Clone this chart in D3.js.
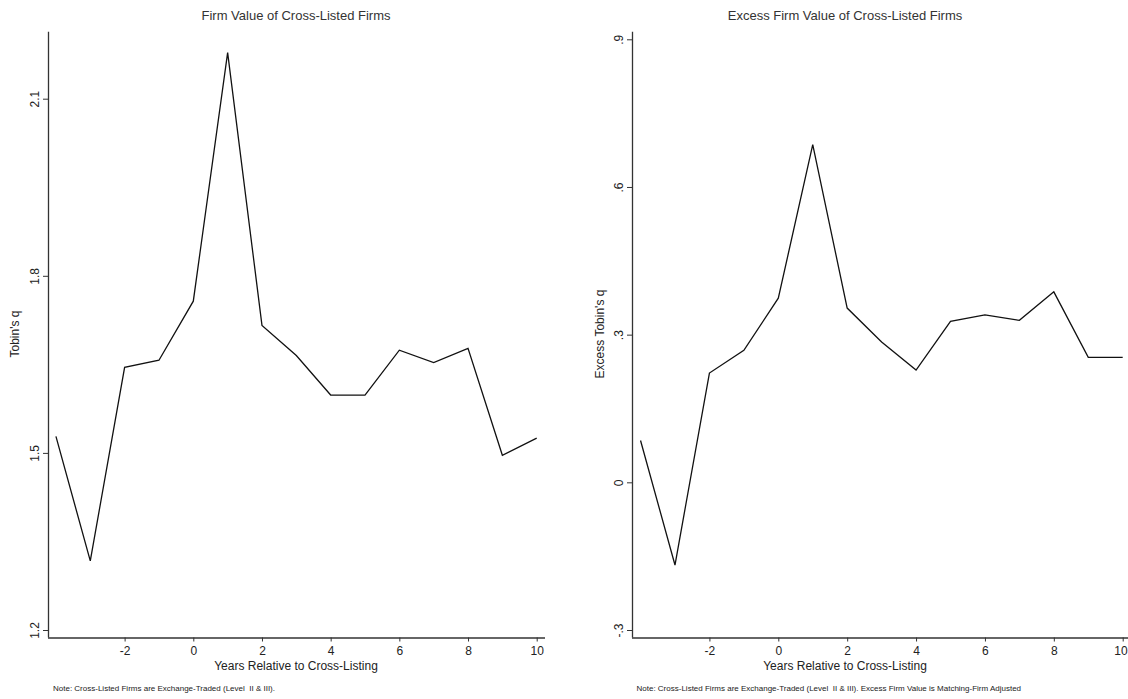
<!DOCTYPE html>
<html><head><meta charset="utf-8">
<script src="https://cdn.jsdelivr.net/npm/d3@7"></script>
<style>body{margin:0;background:#fff}svg{display:block}text{font-family:"Liberation Sans",Arial,sans-serif;white-space:pre}</style>
</head><body><svg id="c" width="1128" height="699"></svg>
<script>
const years = [-4,-3,-2,-1,0,1,2,3,4,5,6,7,8,9,10];
const tobinQ = [1.528,1.317,1.645,1.657,1.757,2.178,1.716,1.665,1.598,1.598,1.674,1.653,1.677,1.496,1.525];
const excessQ = [0.085,-0.168,0.222,0.268,0.374,0.686,0.354,0.285,0.228,0.327,0.340,0.329,0.387,0.254,0.254];
const xTicks = [-2,0,2,4,6,8,10];
const xTickLabels = ["-2","0","2","4","6","8","10"];
const leftYTicks = [1.2,1.5,1.8,2.1];
const leftYLabels = ["1.2","1.5","1.8","2.1"];
const rightYTicks = [-0.3,0,0.3,0.6,0.9];
const rightYLabels = ["-.3","0",".3",".6",".9"];

const svg = d3.select("#c");
const axisCol = "#333";
const W = 1128;

function panel(cfg){
  const g = svg.append("g");
  const x = d3.scaleLinear().domain([0,10]).range(cfg.xr);
  const y = d3.scaleLinear().domain(cfg.yd).range(cfg.yr);
  const ax = g.append("g").attr("transform",`translate(0,${cfg.axisY})`)
    .call(d3.axisBottom(x).tickValues(xTicks).tickFormat((d,i)=>xTickLabels[i]).tickSize(4).tickSizeOuter(0));
  ax.select(".domain").attr("d",`M${cfg.axisX},0.5H${cfg.xEnd}`).attr("stroke",axisCol).attr("stroke-width",1.3);
  ax.selectAll(".tick line").attr("stroke",axisCol);
  ax.selectAll(".tick text").attr("font-size",12).attr("fill","#222").attr("dy","0.9em")
    .each(function(d){
      const b = this.getBBox();
      const right = x(d) + b.x + b.width;
      if (right > W - 0.5) d3.select(this).attr("x", W - 0.5 - right);
    });
  const ay = g.append("g").attr("transform",`translate(${cfg.axisX},0)`)
    .call(d3.axisLeft(y).tickValues(cfg.yTicks).tickFormat((d,i)=>cfg.yLabels[i]).tickSize(5).tickSizeOuter(0));
  ay.select(".domain").attr("d",`M0.5,${cfg.yTop}V${cfg.axisY}`).attr("stroke",axisCol).attr("stroke-width",1.3);
  ay.selectAll(".tick line").attr("stroke",axisCol);
  ay.selectAll(".tick text").attr("font-size",12).attr("fill","#222")
    .attr("transform","rotate(-90)").attr("x",0).attr("y",-9).attr("dy",0).attr("text-anchor","middle");
  const line = d3.line().x((d,i)=>x(years[i])).y(d=>y(d));
  g.append("path").datum(cfg.data).attr("d",line).attr("fill","none").attr("stroke","#111").attr("stroke-width",1.3);
  g.append("text").attr("x",cfg.titleX).attr("y",20).attr("text-anchor","middle").attr("font-size",13).attr("fill","#333").text(cfg.title);
  g.append("text").attr("x",cfg.titleX).attr("y",670).attr("text-anchor","middle").attr("font-size",12).attr("fill","#222").text("Years Relative to Cross-Listing");
  g.append("text").attr("transform",`translate(${cfg.ylabX},${cfg.ylabY}) rotate(-90)`).attr("text-anchor","middle").attr("font-size",12).attr("fill","#222").text(cfg.ylab);
  g.append("text").attr("x",cfg.noteX).attr("y",691).attr("font-size",8).attr("fill","#222").text(cfg.note);
}

panel({xr:[193.3,536.7], yd:[1.2,2.1], yr:[630,98.7], axisY:637.5, axisX:48, xEnd:545, yTop:31.7,
  yTicks:leftYTicks, yLabels:leftYLabels, data:tobinQ, title:"Firm Value of Cross-Listed Firms", titleX:296,
  ylab:"Tobin's q", ylabX:19, ylabY:334, noteX:53, note:"Note: Cross-Listed Firms are Exchange-Traded (Level  II & III)."});
panel({xr:[778.3,1122.7], yd:[-0.3,0.9], yr:[630,39.3], axisY:637.5, axisX:632, xEnd:1128, yTop:31.7,
  yTicks:rightYTicks, yLabels:rightYLabels, data:excessQ, title:"Excess Firm Value of Cross-Listed Firms", titleX:845,
  ylab:"Excess Tobin's q", ylabX:604, ylabY:334, noteX:636.5, note:"Note: Cross-Listed Firms are Exchange-Traded (Level  II & III). Excess Firm Value is Matching-Firm Adjusted"});
</script></body></html>
